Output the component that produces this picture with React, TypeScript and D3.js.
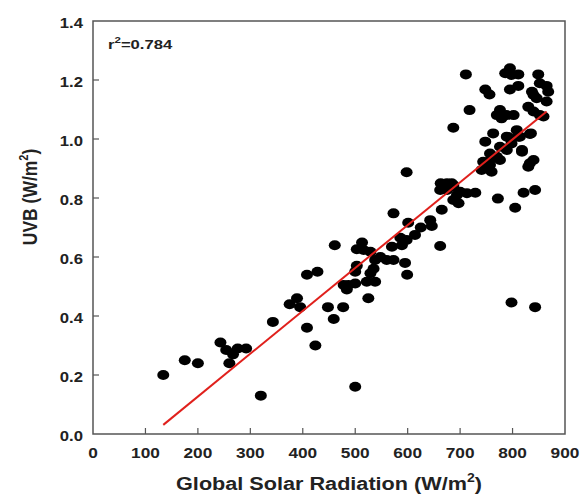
import React from "react";
import * as d3 from "d3";

const solarRadiation: number[] = [
  134, 175, 200, 243, 254, 260, 267, 276, 292, 320, 343, 375, 389, 395, 408, 428, 408, 424, 448, 459, 461, 477, 500, 525,
  478, 487, 500, 484, 500, 503, 535, 529, 522, 538, 503, 513, 516, 529, 538, 548, 560, 573, 570, 586, 589, 598, 614, 595,
  599, 573, 601, 643, 646, 662, 665, 598, 625,
  663, 684, 662, 687, 700, 713, 729, 687, 697, 675, 694, 772, 805, 821, 843, 830, 833, 818, 748, 763, 744, 741, 760, 757,
  776, 770, 798, 814, 808, 789, 835, 760, 757, 776, 840, 789, 818, 792, 776, 770, 779, 789, 802, 830, 840, 852, 859, 687,
  718, 748, 756, 795, 811, 837, 840, 846, 865, 852, 865, 868, 849, 711, 795, 786, 798, 811, 798, 843, 675, 687, 811, 833,
];
const uvb: number[] = [
  0.2, 0.25, 0.24, 0.31, 0.285, 0.24, 0.27, 0.29, 0.29, 0.13, 0.38, 0.44, 0.46, 0.43, 0.54, 0.55, 0.36, 0.3, 0.43, 0.39, 0.64, 0.43, 0.16, 0.46,
  0.505, 0.505, 0.51, 0.49, 0.55, 0.57, 0.56, 0.545, 0.516, 0.516, 0.626, 0.649, 0.624, 0.618, 0.59, 0.6, 0.59, 0.59, 0.635, 0.665, 0.64, 0.658, 0.675, 0.58,
  0.54, 0.748, 0.716, 0.725, 0.705, 0.637, 0.76, 0.887, 0.7,
  0.85, 0.85, 0.827, 0.838, 0.821, 0.816, 0.818, 0.793, 0.782, 0.827, 0.81, 0.798, 0.767, 0.818, 0.827, 0.906, 0.918, 0.957, 0.991, 1.019, 0.923, 0.895, 0.889, 0.951,
  0.974, 0.94, 0.985, 1.008, 1.03, 1.008, 1.019, 0.935, 0.912, 0.929, 0.929, 0.963, 0.963, 1.006, 1.098, 1.081, 1.07, 1.081, 1.081, 1.109, 1.093, 1.081, 1.076, 1.038,
  1.098, 1.168, 1.151, 1.168, 1.18, 1.16, 1.149, 1.138, 1.127, 1.189, 1.18, 1.16, 1.219, 1.219, 1.24, 1.223, 1.217, 1.219, 0.446, 0.43, 0.85, 0.844, 1.008, 1.017,
];

const fitSlope = 0.001453;
const fitIntercept = -0.1637;
const fitRange: number[] = [134, 865];

const xTicks: number[] = [0, 100, 200, 300, 400, 500, 600, 700, 800, 900];
const yTicks: number[] = [0, 0.2, 0.4, 0.6, 0.8, 1.0, 1.2, 1.4];

const rSquaredLabel = "r";
const rSquaredValue = "=0.784";

export default function App() {
  const W = 580;
  const H = 501;
  const left = 93;
  const right = 565;
  const top = 21;
  const bottom = 434;
  const x = d3.scaleLinear().domain([0, 900]).range([left, right]);
  const y = d3.scaleLinear().domain([0, 1.4]).range([bottom, top]);
  const font = "'Liberation Sans', Arial, sans-serif";
  const sx = 1.15;
  const line = d3
    .line<number>()
    .x((d) => x(d))
    .y((d) => y(fitSlope * d + fitIntercept));

  return (
    <svg
      width={W}
      height={H}
      style={{ position: "absolute", left: 0, top: 0, background: "#fff" }}
      fontFamily={font}
    >
      <rect x={0} y={0} width={W} height={H} fill="#fff" />
      {solarRadiation.map((px, i) => (
        <ellipse key={i} cx={x(px)} cy={y(uvb[i])} rx={6} ry={5} fill="#000" />
      ))}
      <path d={line(fitRange) || ""} stroke="#e0201c" strokeWidth={2} fill="none" />
      <rect x={left} y={top} width={right - left} height={bottom - top} fill="none" stroke="#555" strokeWidth={1.5} />
      {xTicks.map((t) => (
        <g key={"x" + t}>
          {t > 0 && t < 900 && (
            <line x1={x(t)} x2={x(t)} y1={bottom} y2={bottom - 6} stroke="#555" strokeWidth={1.2} />
          )}
          <text
            transform={`translate(${x(t)},458) scale(${sx},1)`}
            textAnchor="middle"
            fontSize={15}
            fontWeight="bold"
            fill="#222"
          >
            {t}
          </text>
        </g>
      ))}
      {yTicks.map((t) => (
        <g key={"y" + t}>
          {t > 0 && t < 1.4 && (
            <line x1={left} x2={left + 6} y1={y(t)} y2={y(t)} stroke="#555" strokeWidth={1.2} />
          )}
          <text
            transform={`translate(83,${y(t) + 6.5}) scale(${sx},1)`}
            textAnchor="end"
            fontSize={14.5}
            fontWeight="bold"
            fill="#222"
          >
            {t.toFixed(1)}
          </text>
        </g>
      ))}
      <text transform={`translate(108,49) scale(1.28,1)`} fontSize={13} fontWeight="bold" fill="#222">
        {rSquaredLabel}
        <tspan fontSize={9} dy={-6}>2</tspan>
        <tspan dy={6}>{rSquaredValue}</tspan>
      </text>
      <text
        transform="translate(37,197) rotate(-90) scale(1,1.12)"
        textAnchor="middle"
        fontSize={17.5}
        fontWeight="bold"
        fill="#222"
      >
        UVB (W/m<tspan fontSize={11} dy={-8}>2</tspan>
        <tspan dy={8}>)</tspan>
      </text>
      <text
        transform={`translate(329,490) scale(1.17,1)`}
        textAnchor="middle"
        fontSize={18.5}
        fontWeight="bold"
        fill="#222"
      >
        Global Solar Radiation (W/m<tspan fontSize={12} dy={-8}>2</tspan>
        <tspan dy={8}>)</tspan>
      </text>
    </svg>
  );
}
